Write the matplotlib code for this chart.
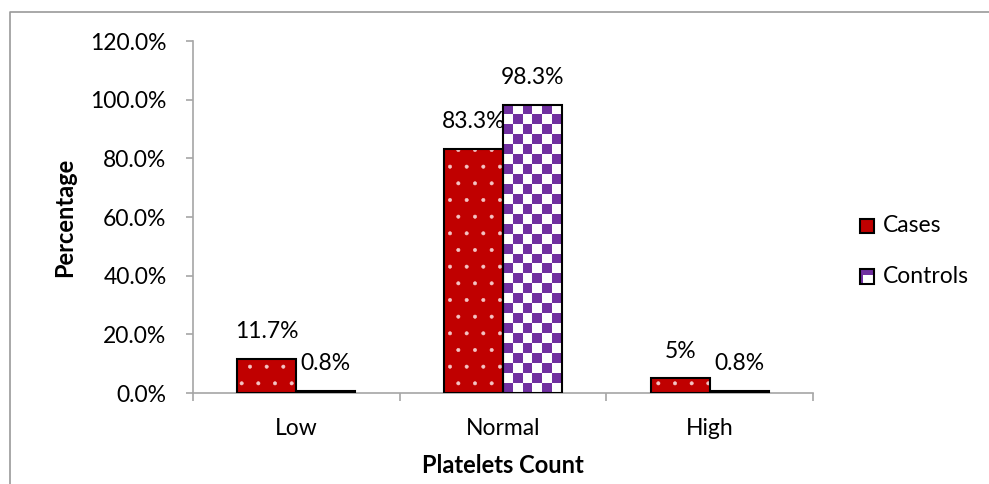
import numpy as np
import matplotlib
matplotlib.use("Agg")
import matplotlib.pyplot as plt
from matplotlib.colors import ListedColormap
from matplotlib.lines import Line2D
from matplotlib.patches import Rectangle
from matplotlib.legend_handler import HandlerBase

# ---- data ----
categories = ["Low", "Normal", "High"]
cases = [11.7, 83.3, 5.0]
controls = [0.8, 98.3, 0.8]
case_labels = ["11.7%", "83.3%", "5%"]
control_labels = ["0.8%", "98.3%", "0.8%"]
yticks = [0, 20, 40, 60, 80, 100, 120]
series_names = ["Cases", "Controls"]

# ---- style ----
RED = "#C00000"
PURPLE = "#7030A0"
GRAY = "#A6A6A6"
FONT = "Lato"
FS = 16.5
FSB = 17

plt.rcParams["font.family"] = [FONT, "DejaVu Sans"]
plt.rcParams["hatch.linewidth"] = 0.4

W, H = 989, 484
fig = plt.figure(figsize=(W / 100, H / 100), dpi=100)
ax = fig.add_axes([193 / W, 1 - 393 / H, 620 / W, (393 - 41) / H])

x = np.arange(len(categories))
bw = 0.285

# Cases bars: red with white dots
ax.bar(x - bw / 2, cases, bw, color=RED, edgecolor="#F4C4C4", hatch=".",
       linewidth=0, zorder=2)
ax.bar(x - bw / 2, cases, bw, fill=False, edgecolor="black",
       linewidth=1.5, zorder=4)

# Controls bars: purple/white checkerboard
ctrl = ax.bar(x + bw / 2, controls, bw, color=PURPLE, linewidth=0, zorder=2)
ax.set_xlim(-0.5, len(categories) - 0.5)
ax.set_ylim(0, 120)
fig.canvas.draw()
cell_px = 10.0
cmap = ListedColormap([PURPLE, "white"])
for rect in ctrl:
    x0, y0 = rect.get_x(), rect.get_y()
    w, h = rect.get_width(), rect.get_height()
    p0 = ax.transData.transform((x0, y0))
    p1 = ax.transData.transform((x0 + w, y0 + h))
    nx = max(1, int(round((p1[0] - p0[0]) / cell_px)))
    ny = max(1, int(round((p1[1] - p0[1]) / cell_px)))
    ii, jj = np.indices((ny, nx))
    board = ((ii + jj) % 2).astype(float)
    im = ax.imshow(board, cmap=cmap, extent=(x0, x0 + w, y0, y0 + h),
                   aspect="auto", interpolation="nearest", origin="lower",
                   zorder=3, vmin=0, vmax=1)
    im.set_clip_path(rect)
ax.bar(x + bw / 2, controls, bw, fill=False, edgecolor="black",
       linewidth=1.5, zorder=4)
ax.set_xlim(-0.5, len(categories) - 0.5)
ax.set_ylim(0, 120)

# data labels
for xi, v, t in zip(x - bw / 2, cases, case_labels):
    ax.annotate(t, (xi, v), xytext=(0, 19.5), textcoords="offset points",
                ha="center", va="center", fontsize=FS, zorder=5)
for xi, v, t in zip(x + bw / 2, controls, control_labels):
    ax.annotate(t, (xi, v), xytext=(0, 19.5), textcoords="offset points",
                ha="center", va="center", fontsize=FS, zorder=5)

# axes styling
for s in ["top", "right"]:
    ax.spines[s].set_visible(False)
for s in ["left", "bottom"]:
    ax.spines[s].set_color(GRAY)
    ax.spines[s].set_linewidth(1.2)

ax.set_yticks(yticks)
ax.set_yticklabels([f"{v:.1f}%" for v in yticks], fontsize=FS)
ax.tick_params(axis="y", length=5, width=1.2, color=GRAY, pad=14)

ax.set_xticks(np.arange(len(categories) + 1) - 0.5)
ax.set_xticklabels([])
ax.set_xticks(x, minor=True)
ax.set_xticklabels(categories, minor=True, fontsize=FS)
ax.tick_params(axis="x", which="major", length=6, width=1.2, color=GRAY, direction="out")
ax.tick_params(axis="x", which="minor", length=0, pad=18)

ax.set_ylabel("Percentage", fontsize=FSB, fontweight="bold", labelpad=10)
ax.set_xlabel("Platelets Count", fontsize=FSB, fontweight="bold", labelpad=11)


# legend
class HandlerChecker(HandlerBase):
    def create_artists(self, legend, orig_handle, xd, yd, width, height, fontsize, trans):
        s = min(width, height)
        bg = Rectangle((xd, yd), s, s, facecolor="white", edgecolor="none", transform=trans)
        top = Rectangle((xd, yd + s * 0.62), s, s * 0.38, facecolor=PURPLE, edgecolor="none", transform=trans)
        side = Rectangle((xd, yd), s * 0.2, s, facecolor=PURPLE, edgecolor="none", transform=trans)
        edge = Rectangle((xd, yd), s, s, facecolor="none", edgecolor="black", linewidth=1.5, transform=trans)
        return [bg, top, side, edge]


class HandlerSquare(HandlerBase):
    def create_artists(self, legend, orig_handle, xd, yd, width, height, fontsize, trans):
        s = min(width, height)
        r = Rectangle((xd, yd), s, s, facecolor=RED, edgecolor="black", linewidth=1.5, transform=trans)
        return [r]


h_cases = Rectangle((0, 0), 1, 1)
h_ctrl = Rectangle((0, 0), 1, 1)
fig.legend([h_cases, h_ctrl], series_names,
           handler_map={h_cases: HandlerSquare(), h_ctrl: HandlerChecker()},
           loc="center left", bbox_to_anchor=(860 / W, 1 - 251 / H),
           frameon=False, fontsize=FS, handlelength=0.62, handleheight=0.62,
           handletextpad=0.4, labelspacing=1.3, borderaxespad=0, borderpad=0)

# outer chart-area border
yb = 1 - 12 / H
xb = 10 / W
fig.add_artist(Line2D([xb, xb, 1.01], [-0.01, yb, yb], color="#9A9A9A",
                      linewidth=1.2, transform=fig.transFigure))

fig.savefig("out.png", dpi=100)
